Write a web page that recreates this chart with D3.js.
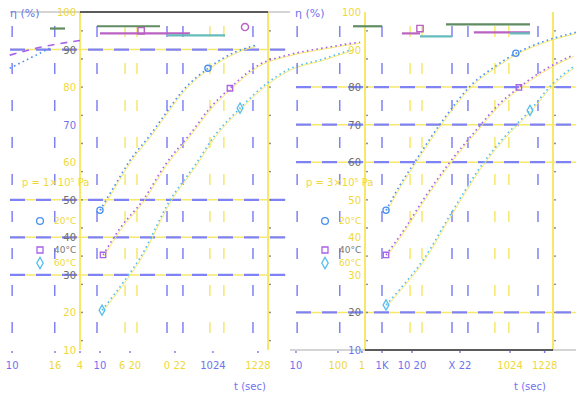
<!DOCTYPE html>
<html>
<head>
<meta charset="utf-8">
<script src="https://cdn.jsdelivr.net/npm/d3@7"></script>
<style>
  html, body { margin: 0; padding: 0; background: #ffffff; }
  svg { display: block; font-family: "DejaVu Sans", sans-serif; }
</style>
</head>
<body>
<svg id="chart" width="576" height="396"></svg>
<script>
// ---- data -------------------------------------------------------------
const temperatures = ["20°C", "40°C", "60°C"];
const pressures = ["p = 1×10⁵ Pa", "p = 3×10⁵ Pa"];

// efficiency η (%) against time t (s), panel 1 (p = 1e5 Pa)
const p1Time20 = [2.66, 5.55, 11.6, 30.9, 58.3, 155, 527, 1980, 5280];
const p1Eta20  = [47.2, 53.9, 60.5, 67.2, 72.0, 79.1, 85.0, 89.3, 91.1];
const p1Time40 = [3.09, 7.1, 21.9, 64.1, 254, 527, 1550, 6130, 25400, 1.2e5, 9e5];
const p1Eta40  = [35.3, 42.4, 49.9, 59.2, 68.5, 73.8, 79.7, 85.8, 88.5, 90.2, 92.0];
const p1Time60 = [2.94, 10.0, 18.9, 82.4, 279, 746, 2540, 9460, 25400, 1.5e5, 6e5];
const p1Eta60  = [20.6, 29.4, 34.5, 49.9, 59.2, 67.2, 74.4, 81.0, 84.5, 87.5, 90.0];
// short lead-in traces left of panel 1
const p1LeadTime40 = [0.032, 0.141, 1];
const p1LeadEta40  = [88.5, 90.6, 92.4];
const p1LeadTime20 = [0.032, 0.086, 0.23];
const p1LeadEta20  = [85.0, 87.7, 90.4];

// panel 2 (p = 3e5 Pa)
const p2Time20 = [2.80, 5.55, 11.0, 45.5, 198, 555, 1620, 3770, 30900];
const p2Eta20  = [47.2, 53.9, 59.7, 71.2, 81.0, 85.3, 89.0, 91.1, 94.6];
const p2Time40 = [2.80, 7.1, 17.1, 61.1, 230, 744, 1880, 5290, 26500];
const p2Eta40  = [35.3, 42.4, 49.9, 59.7, 68.5, 75.7, 79.9, 83.9, 88.5];
const p2Time60 = [2.80, 7.1, 17.1, 64.3, 323, 1000, 3240, 10000, 26500];
const p2Eta60  = [22.0, 27.8, 33.9, 45.9, 59.7, 67.2, 73.8, 81.0, 85.3];

// marked points on each curve (index into the series)
const markIndex = [0, 6];

// time ranges reaching the upper band: [t start, t end, η]
const p1Bands20 = [[2.3, 50.3, 96.2], [0.23, 0.48, 95.6]];
const p1Bands40 = [[2.66, 218, 94.3]];
const p1Bands60 = [[71, 1220, 93.8]];
const p2Bands20 = [[0.555, 2.3, 96.2], [52.8, 3240, 96.7]];
const p2Bands40 = [[6.1, 14.8, 94.3], [207, 3240, 94.6]];
const p2Bands60 = [[14.8, 71, 93.5], [1220, 3240, 94.3]];
// band markers: [t, η]
const p1BandMarks = [[20, 95.0], [3240, 96.0]];
const p2BandMarks = [[14.8, 95.6]];

// grid and tick positions
const etaTicks = [100, 90, 80, 70, 60, 50, 40, 30, 20, 10];
const p1EtaLabelColors = ["y", "g", "y", "b", "y", "g", "g", "g", "y", "y"];
const p2EtaLabelColors = ["y", "y", "g", "g", "g", "y", "y", "y", "g", "b"];
const majorTimeGrid = [0.036, 0.29, 2.3, 71, 155, 4790];
const minorTimeGrid = [9.1, 16.3, 580, 1150];
const p1HLines = [90, 50, 40, 30];
const p2HLines = [80, 70, 60, 20];
const p1TimeTicks = [0.036, 0.294, 1, 2.66, 11.6, 105, 673, 6110];
const p1TimeLabels = ["10", "16", "4", "10", "6 20", "0 22", "1024", "1228"];
const p2TimeTicks = [0.034, 0.266, 0.86, 2.3, 10.0, 105, 1220, 6650];
const p2TimeLabels = ["10", "100", "1", "1K", "10 20", "X 22", "1024", "1228"];
const p1TickColors = ["b", "y", "y", "b", "y", "y", "b", "y"];
const p2TickColors = ["b", "y", "y", "b", "b", "b", "y", "y"];

// ---- drawing ----------------------------------------------------------
const C = {
  b: "#6f72ee", y: "#f0d83a", g: "#6d6d6d",
  grid: "#7f82f4", gridY: "#f7e86a",
  s20: "#4a90f0", s40: "#a862e6", s60: "#58bdee",
  bar20: "#5f8c63", bar40: "#b862c2", bar60: "#66bcbc"
};
const svg = d3.select("#chart");
const y = d3.scaleLinear().domain([10, 100]).range([350, 12]);

const panels = [
  { left: 80, label: pressures[0], legendX: 40, labelX: 22,
    series: [[p1Time20, p1Eta20], [p1Time40, p1Eta40], [p1Time60, p1Eta60]],
    leads: [[p1LeadTime20, p1LeadEta20, 0], [p1LeadTime40, p1LeadEta40, 1]],
    bands: [p1Bands20, p1Bands40, p1Bands60], bandMarks: p1BandMarks,
    hLines: p1HLines, hFrom: 10, hTo: 286,
    ticks: p1TimeTicks, tickLabels: p1TimeLabels, tickColors: p1TickColors,
    etaColors: p1EtaLabelColors, titleX: 250, topLine: true },
  { left: 365, label: pressures[1], legendX: 325, labelX: 306,
    series: [[p2Time20, p2Eta20], [p2Time40, p2Eta40], [p2Time60, p2Eta60]],
    leads: [],
    bands: [p2Bands20, p2Bands40, p2Bands60], bandMarks: p2BandMarks,
    hLines: p2HLines, hFrom: 296, hTo: 576,
    ticks: p2TimeTicks, tickLabels: p2TimeLabels, tickColors: p2TickColors,
    etaColors: p2EtaLabelColors, titleX: 530, topLine: false }
];
const seriesColors = [C.s20, C.s40, C.s60];
const barColors = [C.bar20, C.bar40, C.bar60];
const symbols = [d3.symbolCircle, d3.symbolSquare, d3.symbolDiamond];
const legendRows = [221, 250, 263];

panels.forEach((p) => {
  const x = d3.scaleLog().domain([1, 1e4]).range([p.left, p.left + 188]);
  const g = svg.append("g");
  const xR = x(1e4);

  // horizontal reference lines: pale yellow under blue dashes
  p.hLines.forEach(v => {
    g.append("line").attr("x1", p.hFrom).attr("x2", p.hTo)
      .attr("y1", y(v)).attr("y2", y(v))
      .attr("stroke", C.gridY).attr("stroke-width", 1.5);
    g.append("line").attr("x1", p.hFrom).attr("x2", p.hTo)
      .attr("y1", y(v)).attr("y2", y(v))
      .attr("stroke", C.grid).attr("stroke-width", 2.2)
      .attr("stroke-dasharray", "15,11");
  });

  // vertical grid
  majorTimeGrid.forEach(t => {
    g.append("line").attr("x1", x(t)).attr("x2", x(t))
      .attr("y1", y(100) + 14).attr("y2", y(10))
      .attr("stroke", C.grid).attr("stroke-width", 1.5)
      .attr("stroke-dasharray", "11,26");
  });
  minorTimeGrid.forEach(t => {
    g.append("line").attr("x1", x(t)).attr("x2", x(t))
      .attr("y1", y(100) + 14).attr("y2", y(10))
      .attr("stroke", C.gridY).attr("stroke-width", 1.5)
      .attr("stroke-dasharray", "11,26");
  });

  // frame: yellow sides with small dots
  [x(1), xR].forEach(px => {
    g.append("line").attr("x1", px).attr("x2", px)
      .attr("y1", y(100)).attr("y2", y(10))
      .attr("stroke", C.gridY).attr("stroke-width", 2);
    g.selectAll(null).data(d3.range(12.5, 100, 7.5)).join("circle")
      .attr("cx", px + 2).attr("cy", d => y(d)).attr("r", 0.9)
      .attr("fill", "#777");
  });
  if (p.topLine) {
    g.append("line").attr("x1", 10).attr("x2", 290)
      .attr("y1", y(100)).attr("y2", y(100)).attr("stroke", "#aaa").attr("stroke-width", 1);
    g.append("line").attr("x1", x(1)).attr("x2", xR)
      .attr("y1", y(100)).attr("y2", y(100)).attr("stroke", "#333").attr("stroke-width", 1.6);
  } else {
    g.append("line").attr("x1", 290).attr("x2", 576)
      .attr("y1", y(10)).attr("y2", y(10)).attr("stroke", "#aaa").attr("stroke-width", 1);
    g.append("line").attr("x1", x(1)).attr("x2", xR)
      .attr("y1", y(10)).attr("y2", y(10)).attr("stroke", "#333").attr("stroke-width", 1.6);
  }

  // band bars near the top
  p.bands.forEach((list, i) => {
    list.forEach(b => {
      g.append("line").attr("x1", x(b[0])).attr("x2", x(b[1]))
        .attr("y1", y(b[2])).attr("y2", y(b[2]))
        .attr("stroke", barColors[i]).attr("stroke-width", 2.2);
    });
  });
  p.bandMarks.forEach((m, k) => {
    g.append("path")
      .attr("d", d3.symbol().type(k === 0 ? d3.symbolSquare : d3.symbolCircle).size(40)())
      .attr("transform", `translate(${x(m[0])},${y(m[1])})`)
      .attr("fill", "none").attr("stroke", C.bar40).attr("stroke-width", 1.4);
  });

  // curves: faint yellow trace with dotted coloured line
  const line = d3.line().x(d => x(d[0])).y(d => y(d[1])).curve(d3.curveMonotoneX);
  p.series.forEach((s, i) => {
    const pts = s[0].map((t, k) => [t, s[1][k]]);
    g.append("path").attr("d", line(pts)).attr("fill", "none")
      .attr("stroke", C.gridY).attr("stroke-width", 1)
      .attr("transform", "translate(1,1)");
    g.append("path").attr("d", line(pts)).attr("fill", "none")
      .attr("stroke", seriesColors[i]).attr("stroke-width", 1.6)
      .attr("stroke-dasharray", "1.6,3.2");
    markIndex.forEach(k => {
      g.append("path")
        .attr("d", d3.symbol().type(symbols[i]).size(30)())
        .attr("transform", `translate(${x(pts[k][0])},${y(pts[k][1])})`)
        .attr("fill", "none").attr("stroke", seriesColors[i]).attr("stroke-width", 1.3);
    });
  });
  p.leads.forEach(l => {
    const pts = l[0].map((t, k) => [t, l[1][k]]);
    g.append("path").attr("d", line(pts)).attr("fill", "none")
      .attr("stroke", seriesColors[l[2]]).attr("stroke-width", 1.6)
      .attr("stroke-dasharray", l[2] === 1 ? "7,6" : "1.6,3.2");
  });

  // η labels
  etaTicks.forEach((v, i) => {
    g.append("text").attr("x", x(1) - 4).attr("y", y(v) + 4)
      .attr("text-anchor", "end").attr("font-size", 10)
      .attr("fill", C[p.etaColors[i]]).text(v);
  });

  // time labels
  p.ticks.forEach((t, i) => {
    g.append("text").attr("x", x(t)).attr("y", 369)
      .attr("text-anchor", "middle").attr("font-size", 10)
      .attr("fill", C[p.tickColors[i]]).text(p.tickLabels[i]);
    g.append("circle").attr("cx", x(t)).attr("cy", 352).attr("r", 0.9).attr("fill", C.b);
  });

  // titles
  g.append("text").attr("x", p.left - 70).attr("y", 17).attr("font-size", 11)
    .attr("fill", C.b).text("η (%)");
  g.append("text").attr("x", p.titleX).attr("y", 390).attr("font-size", 10)
    .attr("text-anchor", "middle").attr("fill", C.b).text("t (sec)");
  g.append("text").attr("x", p.labelX).attr("y", 186).attr("font-size", 10)
    .attr("fill", C.y).text(p.label);

  // legend
  temperatures.forEach((name, i) => {
    const ly = legendRows[i];
    g.append("path")
      .attr("d", d3.symbol().type(symbols[i]).size(36)())
      .attr("transform", `translate(${p.legendX},${ly})`)
      .attr("fill", "none").attr("stroke", seriesColors[i]).attr("stroke-width", 1.3);
    g.append("text").attr("x", p.legendX + 14).attr("y", ly + 3)
      .attr("font-size", 9).attr("fill", i === 1 ? "#777" : C.y).text(name);
  });
});
</script>
</body>
</html>
